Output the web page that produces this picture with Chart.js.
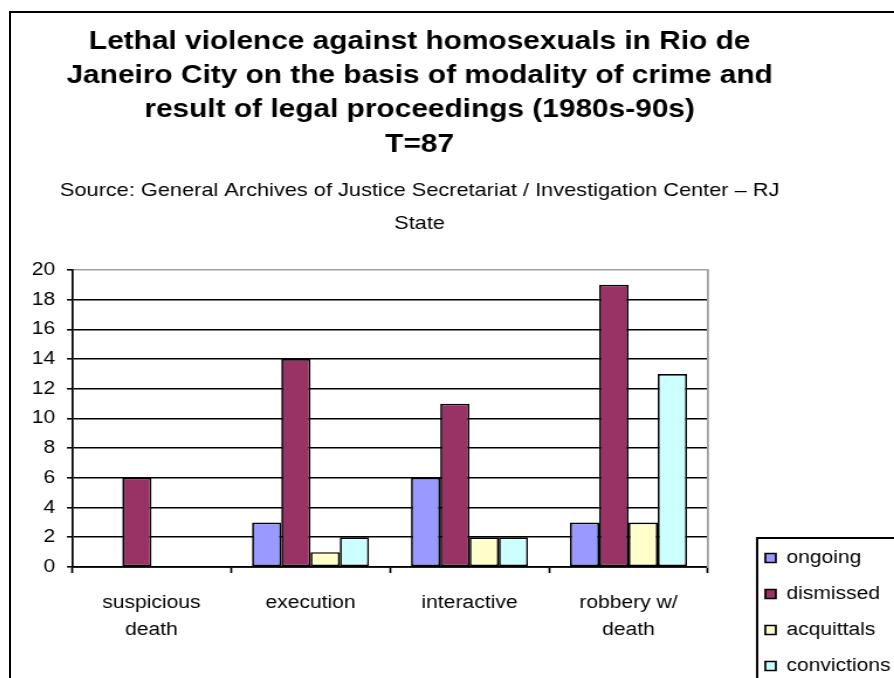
<!DOCTYPE html>
<html>
<head>
<meta charset="utf-8">
<script src="https://cdn.jsdelivr.net/npm/chart.js@4/dist/chart.umd.min.js"></script>
<style>
  html, body { margin: 0; padding: 0; background: #fff; overflow: hidden; width: 894px; height: 678px; }
  #frame { position: absolute; left: 9px; top: 11px; width: 1000px; height: 1000px; border: 2px solid #000; z-index: 2; pointer-events: none; }
  #chart { position: absolute; left: -63px; top: 0; transform: scaleX(1.17); transform-origin: 0 0; }
</style>
</head>
<body>
<div id="frame"></div>
<canvas id="chart" width="825" height="693"></canvas>
<script>
/* data */
let categories = [['suspicious', 'death'], ['execution'], ['interactive'], ['robbery w/', 'death']]
let seriesNames = ['ongoing', 'dismissed', 'acquittals', 'convictions']
let ongoing = [0, 3, 6, 3]
let dismissed = [6, 14, 11, 19]
let acquittals = [0, 1, 2, 3]
let convictions = [0, 2, 2, 13]
let yTicks = [0, 2, 4, 6, 8, 10, 12, 14, 16, 18, 20]

let titleLines = ['Lethal violence against homosexuals in Rio de', 'Janeiro City on the basis of modality of crime and', 'result of legal proceedings (1980s-90s)', 'T=87']
let subtitleLines = ['Source: General Archives of Justice Secretariat / Investigation Center \u2013 RJ', 'State']

let seriesColors = ['#9999FF', '#993366', '#FFFFCC', '#CCFFFF']

Chart.defaults.font.family = '"Liberation Sans", Arial, sans-serif'
Chart.defaults.color = '#000'

let ctx = document.querySelector('#chart').getContext('2d')

// box round the legend, like the excel one
let legendFrame = {
    id: 'legendFrame',
    afterDraw(chart) {
        let lg = chart.legend
        if (!lg || !lg.legendHitBoxes.length) return
        let first = lg.legendHitBoxes[0]
        let c = chart.ctx
        c.save()
        c.strokeStyle = '#000'
        c.lineWidth = 2
        c.strokeRect(first.left - 7, first.top - 11, lg.width + 40, lg.height + 60)
        c.restore()
    }
}

let seriesData = [ongoing, dismissed, acquittals, convictions]

let chart = new Chart(ctx, {
    type: 'bar',
    data: {
        labels: categories,
        datasets: seriesNames.map((name, i) => ({
            label: name,
            data: seriesData[i],
            backgroundColor: seriesColors[i],
            borderColor: '#000',
            borderWidth: 1.7,
            borderSkipped: false,
            categoryPercentage: 0.736,
            barPercentage: 1.0
        }))
    },
    options: {
        responsive: false,
        animation: false,
        devicePixelRatio: 1,
        layout: { padding: 0 },
        plugins: {
            tooltip: { enabled: false },
            title: {
                display: true,
                text: titleLines,
                color: '#000',
                font: { size: 25.5, weight: 'bold', lineHeight: 1.345 },
                padding: { top: 24.7, bottom: 0 }
            },
            subtitle: {
                display: true,
                text: subtitleLines,
                color: '#000',
                font: { size: 18.6, lineHeight: 1.774 },
                padding: { top: 12.5, bottom: 29.6 }
            },
            legend: {
                position: 'right',
                align: 'end',
                labels: {
                    boxWidth: 9,
                    boxHeight: 9,
                    padding: 18,
                    color: '#000',
                    font: { size: 18 }
                }
            }
        },
        scales: {
            x: {
                grid: { display: true, drawOnChartArea: false, drawTicks: true, tickLength: 6, tickColor: '#000', tickWidth: 1.7 },
                border: { color: '#000', width: 1.7 },
                ticks: { color: '#000', font: { size: 18, lineHeight: 1.47 }, padding: 17, maxRotation: 0 },
                afterFit: function (s) { s.height = 126 }
            },
            y: {
                min: yTicks[0],
                max: yTicks[yTicks.length - 1],
                afterBuildTicks: function (s) { s.ticks = yTicks.map(v => ({ value: v })) },
                grid: {
                    color: (c) => (c.tick && c.tick.value === yTicks[yTicks.length - 1]) ? '#a0a0a0' : '#000',
                    lineWidth: 1.6,
                    tickLength: 4.3,
                    tickColor: '#000'
                },
                border: { color: '#000', width: 1.7 },
                ticks: { color: '#000', font: { size: 18 }, padding: 10.2 },
                afterFit: function (s) { s.width = 115.4 }
            },
            // empty right axis: gives the gap before the legend and the grey plot edge
            y2: {
                position: 'right',
                display: true,
                grid: { display: false },
                ticks: { display: false },
                border: { color: '#a0a0a0', width: 1.8 },
                afterFit: function (s) { s.width = 31 }
            }
        }
    },
    plugins: [legendFrame]
})
</script>
</body>
</html>
